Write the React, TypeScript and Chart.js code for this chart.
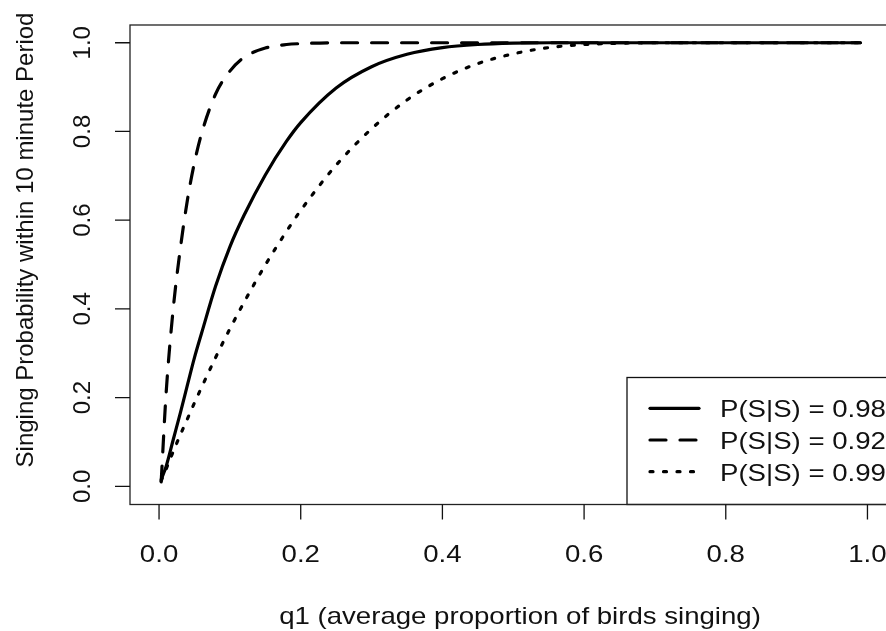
import { useEffect, useRef } from "react";
import { Chart, registerables } from "chart.js";

Chart.register(...registerables);

// q1: average proportion of birds singing
const q1 = [0.003, 0.01, 0.02, 0.03, 0.04, 0.05, 0.06, 0.08, 0.1, 0.12, 0.15, 0.18, 0.2, 0.25, 0.3, 0.35, 0.4, 0.45, 0.5, 0.55, 0.6, 0.65, 0.7, 0.8, 0.9, 0.99];

// Probability of singing within a 10 minute period for each P(S|S)
const singPSS098 = [0.015, 0.045, 0.105, 0.165, 0.228, 0.29, 0.345, 0.452, 0.54, 0.611, 0.702, 0.778, 0.82, 0.898, 0.946, 0.974, 0.989, 0.996, 0.999, 1, 1, 1, 1, 1, 1, 1];
const singPSS092 = [0.01, 0.21, 0.4, 0.535, 0.645, 0.73, 0.795, 0.885, 0.936, 0.967, 0.988, 0.996, 0.998, 1, 1, 1, 1, 1, 1, 1, 1, 1, 1, 1, 1, 1];
const singPSS099 = [0.012, 0.039, 0.078, 0.116, 0.152, 0.188, 0.223, 0.291, 0.355, 0.415, 0.499, 0.575, 0.622, 0.724, 0.806, 0.871, 0.919, 0.953, 0.975, 0.989, 0.996, 0.999, 1, 1, 1, 1];

const xTickValues = [0, 0.2, 0.4, 0.6, 0.8, 1.0];
const yTickValues = [0, 0.2, 0.4, 0.6, 0.8, 1.0];

const seriesLabels = ["P(S|S) = 0.98", "P(S|S) = 0.92", "P(S|S) = 0.99"];
const xTitle = "q1 (average proportion of birds singing)";
const yTitle = "Singing Probability within 10 minute Period";

const FONT = '24px "Liberation Sans", Arial, Helvetica, sans-serif';
const TEXT_SX = 1.15; // horizontal stretch of upright text
const INK = "#111";

const toPoints = (ys: number[]) => q1.map((x, i) => ({ x, y: ys[i] }));

function drawUpright(ctx: CanvasRenderingContext2D, text: string, x: number, y: number, align: CanvasTextAlign) {
  ctx.save();
  ctx.translate(x, y);
  ctx.scale(TEXT_SX, 1);
  ctx.textAlign = align;
  ctx.textBaseline = "alphabetic";
  ctx.fillText(text, 0, 0);
  ctx.restore();
}

function drawVertical(ctx: CanvasRenderingContext2D, text: string, x: number, y: number) {
  ctx.save();
  ctx.translate(x, y);
  ctx.rotate(-Math.PI / 2);
  ctx.textAlign = "center";
  ctx.textBaseline = "alphabetic";
  ctx.fillText(text, 0, 0);
  ctx.restore();
}

// Base-graphics style frame, axes, titles and legend
const frameAndLegend = {
  id: "frameAndLegend",
  afterDraw(chart: any) {
    const { ctx, chartArea: a } = chart;
    const xs = chart.scales.x;
    const ys = chart.scales.y;
    ctx.save();

    // legend (bottom right, sitting on the frame)
    const lgLeft = 627;
    const lgTop = 377.5;
    ctx.fillStyle = "#fff";
    ctx.fillRect(lgLeft, lgTop, a.right - lgLeft, a.bottom - lgTop);
    ctx.strokeStyle = "#111";
    ctx.lineWidth = 1.3;
    ctx.strokeRect(lgLeft, lgTop, a.right - lgLeft, a.bottom - lgTop);
    const rows = [408.3, 440, 471.7];
    chart.data.datasets.forEach((ds: any, i: number) => {
      ctx.save();
      ctx.strokeStyle = ds.borderColor;
      ctx.lineWidth = ds.borderWidth;
      ctx.lineCap = ds.borderCapStyle || "round";
      ctx.setLineDash(ds.borderDash || []);
      ctx.beginPath();
      ctx.moveTo(650, rows[i]);
      ctx.lineTo(699, rows[i]);
      ctx.stroke();
      ctx.restore();
      ctx.fillStyle = INK;
      ctx.font = FONT;
      drawUpright(ctx, ds.label, 720, rows[i] + 9, "left");
    });

    // plot frame
    ctx.strokeStyle = "#222";
    ctx.lineWidth = 1.3;
    ctx.setLineDash([]);
    ctx.strokeRect(a.left, a.top, a.right - a.left, a.bottom - a.top);

    // tick marks
    ctx.strokeStyle = "#111";
    ctx.beginPath();
    xTickValues.forEach((v) => {
      const px = xs.getPixelForValue(v);
      ctx.moveTo(px, a.bottom);
      ctx.lineTo(px, a.bottom + 15);
    });
    yTickValues.forEach((v) => {
      const py = ys.getPixelForValue(v);
      ctx.moveTo(a.left, py);
      ctx.lineTo(a.left - 15, py);
    });
    ctx.stroke();

    // tick labels
    ctx.fillStyle = INK;
    ctx.font = FONT;
    xTickValues.forEach((v) => {
      drawUpright(ctx, v.toFixed(1), xs.getPixelForValue(v), 562, "center");
    });
    yTickValues.forEach((v) => {
      drawVertical(ctx, v.toFixed(1), 90, ys.getPixelForValue(v));
    });

    // axis titles
    drawUpright(ctx, xTitle, 520, 624, "center");
    drawVertical(ctx, yTitle, 33, 240);

    ctx.restore();
  },
};

export default function App() {
  const canvasRef = useRef<HTMLCanvasElement | null>(null);

  useEffect(() => {
    const canvas = canvasRef.current;
    if (!canvas) return;
    const chart = new Chart(canvas, {
      type: "line",
      data: {
        datasets: [
          {
            label: seriesLabels[0],
            data: toPoints(singPSS098),
            borderColor: "#000",
            borderWidth: 3.2,
            borderCapStyle: "round",
            borderJoinStyle: "round",
            borderDash: [],
          },
          {
            label: seriesLabels[1],
            data: toPoints(singPSS092),
            borderColor: "#000",
            borderWidth: 3.2,
            borderCapStyle: "round",
            borderJoinStyle: "round",
            borderDash: [16, 14],
          },
          {
            label: seriesLabels[2],
            data: toPoints(singPSS099),
            borderColor: "#000",
            borderWidth: 3.2,
            borderCapStyle: "round",
            borderJoinStyle: "round",
            borderDash: [3, 10.5],
          },
        ],
      },
      options: {
        responsive: false,
        maintainAspectRatio: false,
        devicePixelRatio: 1,
        animation: false,
        events: [],
        layout: { padding: { left: 130, top: 25, right: 2, bottom: 126.5 } },
        elements: {
          point: { radius: 0 },
          line: { cubicInterpolationMode: "monotone", fill: false },
        },
        plugins: {
          legend: { display: false },
          tooltip: { enabled: false },
        },
        scales: {
          x: { type: "linear", min: -0.041, max: 1.029, display: false },
          y: { type: "linear", min: -0.041, max: 1.04, display: false },
        },
      },
      plugins: [frameAndLegend],
    });
    return () => chart.destroy();
  }, []);

  return (
    <div
      style={{
        position: "fixed",
        left: 0,
        top: 0,
        width: 886,
        height: 631,
        overflow: "hidden",
        background: "#fff",
      }}
    >
      <canvas ref={canvasRef} width={890} height={631} style={{ display: "block" }} />
    </div>
  );
}
